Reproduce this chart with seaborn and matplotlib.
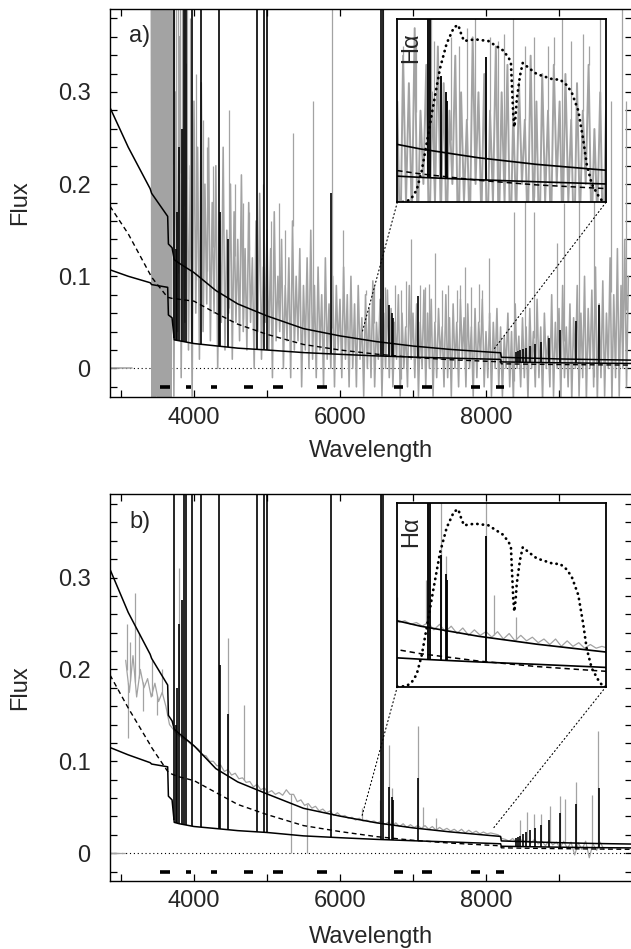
import numpy as np
import pandas as pd
import matplotlib
matplotlib.use("Agg")
import matplotlib.pyplot as plt
from matplotlib.patches import ConnectionPatch
from matplotlib.ticker import MultipleLocator, FixedLocator, FormatStrFormatter
import seaborn as sns

# --- model continua (nebular = lower solid, stellar = dashed, total = upper solid) ---
cont_wl = [2850, 3100, 3400, 3420, 3640, 3650, 3700, 3730, 3800, 4000, 4300, 4600,
           5000, 5500, 6000, 6500, 7000, 7500, 8000, 8200, 8210, 8600, 9000, 9500, 10000]

neb_a = [0.107, 0.100, 0.093, 0.091, 0.088, 0.058, 0.055, 0.031, 0.030, 0.027, 0.0245, 0.022,
         0.020, 0.0172, 0.0153, 0.0136, 0.0123, 0.0112, 0.0102, 0.0098, 0.0071, 0.0066, 0.0061, 0.0057, 0.0054]
star_a = [0.176, 0.146, 0.102, 0.099, 0.077, 0.077, 0.076, 0.076, 0.075, 0.073, 0.060, 0.048,
          0.037, 0.026, 0.020, 0.0155, 0.012, 0.0095, 0.0078, 0.0072, 0.0050, 0.0046, 0.0042, 0.0039, 0.0036]
tot_a = [0.283, 0.240, 0.195, 0.190, 0.165, 0.135, 0.131, 0.118, 0.114, 0.104, 0.0845, 0.070,
         0.057, 0.0432, 0.0353, 0.0291, 0.0243, 0.0207, 0.018, 0.017, 0.0121, 0.0112, 0.0103, 0.0096, 0.009]

neb_b = [0.115, 0.107, 0.0985, 0.097, 0.094, 0.062, 0.058, 0.0335, 0.032, 0.029, 0.0268, 0.0245,
         0.0225, 0.0188, 0.0168, 0.015, 0.0135, 0.0122, 0.0108, 0.0102, 0.0075, 0.007, 0.0065, 0.006, 0.0057]
star_b = [0.194, 0.158, 0.118, 0.115, 0.089, 0.088, 0.086, 0.085, 0.083, 0.079, 0.066, 0.053,
          0.042, 0.030, 0.0235, 0.018, 0.014, 0.011, 0.0088, 0.008, 0.0058, 0.0053, 0.0049, 0.0045, 0.0042]
tot_b = [0.309, 0.262, 0.2165, 0.212, 0.183, 0.150, 0.144, 0.135, 0.130, 0.117, 0.092, 0.0775,
         0.0645, 0.0488, 0.0403, 0.033, 0.0275, 0.0232, 0.0196, 0.0182, 0.0133, 0.0123, 0.0114, 0.0105, 0.0099]

# --- model emission lines (wavelength, peak flux); 0.5 = off the top ---
line_wl = [3727, 3750, 3771, 3798, 3835, 3869, 3889, 3968, 4101, 4340, 4363, 4471,
           4861, 4959, 5007, 5876, 6563, 6584, 6678, 6717, 6731, 7065,
           8413, 8438, 8467, 8502, 8545, 8598, 8665, 8750, 8863, 9015, 9229, 9546]
peak_a = [0.5, 0.13, 0.17, 0.24, 0.26, 0.5, 0.5, 0.5, 0.5, 0.5, 0.17, 0.14,
          0.5, 0.5, 0.5, 0.19, 0.5, 0.5, 0.069, 0.06, 0.055, 0.079,
          0.018, 0.019, 0.020, 0.021, 0.022, 0.024, 0.026, 0.029, 0.033, 0.042, 0.052, 0.069]
peak_b = [0.5, 0.14, 0.18, 0.25, 0.276, 0.5, 0.5, 0.5, 0.5, 0.5, 0.205, 0.152,
          0.5, 0.5, 0.5, 0.5, 0.5, 0.5, 0.072, 0.0616, 0.058, 0.082,
          0.017, 0.018, 0.019, 0.021, 0.023, 0.025, 0.027, 0.031, 0.036, 0.0435, 0.0536, 0.0714]

# --- observed spectrum a (very noisy) ---
lead_a_wl = [2850, 3150]
lead_a = [0.0, 0.0]
block_a_wl = np.arange(3415, 3700, 10)
block_a = [0.45, -0.05, 0.44, -0.04, 0.46, -0.05, 0.45, -0.03, 0.44, -0.05,
           0.46, -0.04, 0.45, -0.05, 0.44, -0.03, 0.46, -0.05, 0.45, -0.04,
           0.44, -0.05, 0.46, -0.03, 0.45, -0.05, 0.44, -0.04, 0.45]
obs_a_wl = np.arange(3700, 9951, 25)
obs_a = [0.39, -0.03, 0.30, 0.04, 0.36, -0.01, 0.26, 0.05, 0.33, 0.02, 0.22, -0.03, 0.29, 0.06, 0.24, 0.01, 0.31, 0.04, 0.20, 0.07,
         0.25, 0.03, 0.18, 0.06, 0.22, 0.00, 0.16, 0.05, 0.24, 0.02, 0.15, 0.06, 0.20, 0.01, 0.17, 0.05, 0.14, 0.03, 0.21, 0.04,
         0.13, 0.02, 0.18, 0.05, 0.12, 0.00, 0.16, 0.04, 0.19, 0.01, 0.11, 0.05, 0.15, 0.02, 0.13, -0.01, 0.17, 0.03, 0.10, 0.04,
         0.14, 0.00, 0.09, 0.03, 0.12, -0.01, 0.16, 0.02, 0.10, 0.03, 0.13, -0.02, 0.09, 0.02, 0.12, 0.00, 0.15, 0.01, 0.09, -0.01,
         0.11, 0.02, 0.08, -0.02, 0.12, 0.01, 0.07, 0.00, 0.10, -0.02, 0.09, 0.02, 0.075, -0.01, 0.11, 0.01, 0.08, -0.02, 0.10, 0.00,
         0.07, -0.02, 0.09, 0.01, 0.055, -0.03, 0.08, 0.00, 0.065, -0.01, 0.095, -0.02, 0.05, 0.01, 0.075, -0.03, 0.06, 0.00, 0.085, -0.01,
         0.065, -0.02, 0.05, 0.01, 0.08, -0.03, 0.06, 0.00, 0.045, -0.02, 0.09, 0.01, 0.06, -0.01, 0.07, -0.03, 0.05, 0.00, 0.085, -0.02,
         0.06, 0.00, 0.075, -0.03, 0.05, -0.01, 0.065, 0.01, 0.045, -0.02, 0.08, -0.01, 0.055, -0.03, 0.07, 0.00, 0.05, -0.02, 0.075, 0.01,
         0.055, -0.02, 0.07, 0.00, 0.045, -0.03, 0.065, -0.01, 0.05, 0.01, 0.075, -0.02, 0.04, -0.01, 0.06, -0.03, 0.05, 0.00, 0.065, -0.02,
         0.045, -0.03, 0.035, 0.00, 0.06, -0.02, 0.04, -0.035, 0.07, 0.00, 0.035, -0.02, 0.055, -0.01, 0.045, -0.035, 0.065, 0.00, 0.04, -0.02,
         0.075, -0.01, 0.045, -0.035, 0.06, 0.00, 0.035, -0.02, 0.08, -0.03, 0.05, 0.00, 0.065, -0.035, 0.09, -0.01, 0.045, -0.02, 0.07, -0.035,
         0.055, 0.00, 0.09, -0.03, 0.06, -0.01, 0.10, -0.035, 0.065, 0.00, 0.085, -0.02, 0.11, -0.035, 0.07, -0.01, 0.095, -0.03, 0.06, 0.00,
         0.12, -0.035, 0.08, -0.01, 0.13, -0.03, 0.09, 0.00, 0.14, -0.02, 0.10]
spk_a_wl = [3710, 3730, 3760, 3780, 3810, 3840, 3860, 3880, 3910, 3940,
            4030, 4120, 4180, 4260, 4476, 4560, 4673, 4760, 4947, 5060,
            5160, 5250, 5351, 5634, 5886, 6045, 6350, 6460, 6594, 6620,
            6760, 6830, 6900, 6970, 7100, 7170, 7220, 7300, 7400, 7480,
            7600, 7650, 7718, 7800, 7900, 7950, 8048, 8380, 8540, 8653,
            8975, 9065, 9271, 9477, 9706, 9867, 9912]
spk_a = [0.5, 0.5, 0.5, 0.5, 0.5, 0.5, 0.45, 0.5, 0.42, 0.38,
         0.32, 0.27, 0.24, 0.22, 0.28, 0.2, 0.18, 0.17, 0.2, 0.16,
         0.18, 0.15, 0.255, 0.29, 0.5, 0.15, 0.085, 0.09, 0.5, 0.088,
         0.09, 0.085, 0.095, 0.14, 0.09, 0.088, 0.092, 0.125, 0.085, 0.09,
         0.085, 0.09, 0.11, 0.088, 0.092, 0.085, 0.12, 0.17, 0.186, 0.17,
         0.136, 0.18, 0.186, 0.245, 0.29, 0.5, 0.29]

# --- observed spectrum b ---
lead_b_wl = [2850, 3060]
lead_b = [0.0, 0.0]
obs_b_wl = np.arange(3065, 9616, 50)
obs_b = [0.21, 0.175, 0.215, 0.17, 0.20, 0.18, 0.19, 0.17, 0.185, 0.165,
         0.175, 0.16, 0.14, 0.135, 0.13, 0.127, 0.124, 0.122, 0.118, 0.116,
         0.113, 0.107, 0.106, 0.100, 0.100, 0.095, 0.096, 0.089, 0.091, 0.085,
         0.087, 0.081, 0.082, 0.077, 0.078, 0.072, 0.075, 0.069, 0.071, 0.066,
         0.068, 0.064, 0.066, 0.063, 0.069, 0.064, 0.064, 0.056, 0.058, 0.052,
         0.054, 0.049, 0.051, 0.046, 0.048, 0.044, 0.046, 0.041, 0.044, 0.040,
         0.041, 0.038, 0.039, 0.036, 0.038, 0.035, 0.036, 0.034, 0.035, 0.033,
         0.035, 0.031, 0.034, 0.030, 0.033, 0.029, 0.032, 0.028, 0.031, 0.028,
         0.030, 0.027, 0.030, 0.026, 0.029, 0.025, 0.028, 0.025, 0.027, 0.024,
         0.026, 0.023, 0.026, 0.022, 0.025, 0.022, 0.024, 0.021, 0.023, 0.021,
         0.022, 0.021, 0.020, 0.016, 0.015, 0.013, 0.016, 0.012, 0.015, 0.013,
         0.014, 0.011, 0.015, 0.010, 0.013, 0.008, 0.014, 0.009, 0.012, 0.006,
         0.013, 0.005, 0.012, -0.002, 0.011, 0.004, 0.013, -0.005, 0.010, 0.003,
         0.012, 0.004]
spk_b_wl = [3080, 3100, 3130, 3197, 3250, 3300, 3420, 3500, 3560, 3798,
            4471, 4686, 5323, 5543, 6300, 6548, 6563, 6678, 6717, 7065,
            7135, 7320, 8471, 8563, 8653, 8755, 8873, 9010, 9079, 9239,
            9455, 9537]
spk_b = [0.25, 0.125, 0.23, 0.283, 0.24, 0.155, 0.21, 0.15, 0.20, 0.31,
         0.234, 0.161, 0.0, 0.0, 0.049, 0.058, 0.5, 0.118, 0.071, 0.138,
         0.05, 0.038, 0.036, 0.045, 0.043, 0.043, 0.051, 0.062, 0.059, 0.077,
         0.063, 0.133]

# continuum fitting windows (drawn at flux -0.02)
win_lo = [3529, 3886, 4229, 4686, 5085, 5689, 6741, 7130, 7794, 8137]
win_hi = [3666, 3964, 4316, 4810, 5213, 5817, 6869, 7259, 7922, 8242]

# filter transmission shown in the Halpha inset
filt_wl = [6300, 6375, 6420, 6467, 6510, 6553, 6611, 6668, 6726, 6789, 6826, 6850, 6875,
           6970, 7085, 7209, 7260, 7280, 7290, 7300, 7309, 7320, 7330, 7358, 7382, 7440,
           7502, 7646, 7703, 7760, 7804, 7861, 7904, 7933, 7977, 8030, 8072, 8100]
filt_tr = [0.0, 0.003, 0.02, 0.067, 0.17, 0.32, 0.53, 0.73, 0.867, 0.955, 0.967, 0.92, 0.88,
           0.889, 0.88, 0.83, 0.79, 0.76, 0.62, 0.48, 0.41, 0.47, 0.56, 0.69, 0.76, 0.73,
           0.70, 0.67, 0.67, 0.64, 0.60, 0.50, 0.34, 0.21, 0.10, 0.04, 0.003, 0.0]

zoom_wl = [6300, 8100]
hook_a = [0.038, 0.020]
hook_b = [0.040, 0.027]

grey = "#a3a3a3"
fs = 17

sns.set_theme(style="ticks")
plt.rcParams["font.family"] = ["Liberation Sans", "DejaVu Sans"]
plt.rcParams["axes.linewidth"] = 1.0


def obs_frame(parts):
    rows = []
    for i, (wl, fl) in enumerate(parts):
        rows.append(pd.DataFrame({"wl": np.asarray(wl, float), "flux": fl, "seg": i}))
    return pd.concat(rows, ignore_index=True)


def draw(ax, obs, spk_wl, spk, tot, neb, star, peaks, glw=0.9, lw_scale=1.0):
    ax.axhline(0, color="black", lw=0.8, ls=(0, (1, 2.5)), zorder=1)
    sns.lineplot(data=obs, x="wl", y="flux", units="seg", estimator=None, sort=False,
                 color=grey, lw=glw, ax=ax, zorder=2)
    base = np.interp(spk_wl, obs["wl"], obs["flux"])
    ax.vlines(spk_wl, np.minimum(base, spk), np.maximum(base, spk),
              color=grey, lw=0.9, zorder=2)
    model = pd.DataFrame({"wl": cont_wl, "tot": tot, "neb": neb, "star": star})
    sns.lineplot(data=model, x="wl", y="tot", color="black", lw=1.1 * lw_scale,
                 estimator=None, sort=False, ax=ax, zorder=3)
    sns.lineplot(data=model, x="wl", y="neb", color="black", lw=1.1 * lw_scale,
                 estimator=None, sort=False, ax=ax, zorder=3)
    sns.lineplot(data=model, x="wl", y="star", color="black", lw=1.0 * lw_scale,
                 linestyle=(0, (3.5, 2.5)), estimator=None, sort=False, ax=ax, zorder=3)
    lbase = np.interp(line_wl, cont_wl, neb)
    ax.vlines(line_wl, lbase, peaks, color="black", lw=1.2 * lw_scale, zorder=3)


def style_main(ax, ylim, tag):
    ax.set_xlim(2850, 10000)
    ax.set_ylim(*ylim)
    ax.xaxis.set_major_locator(FixedLocator([4000, 6000, 8000]))
    ax.xaxis.set_minor_locator(MultipleLocator(1000))
    ax.yaxis.set_major_locator(MultipleLocator(0.1))
    ax.yaxis.set_minor_locator(MultipleLocator(0.02))
    ax.yaxis.set_major_formatter(FormatStrFormatter("%g"))
    ax.tick_params(which="both", direction="in", top=True, right=True,
                   length=4.8, width=0.9, labelsize=fs, color="black")
    ax.tick_params(axis="x", pad=7)
    ax.tick_params(axis="y", pad=14)
    ax.set_xlabel("Wavelength", fontsize=fs)
    ax.set_ylabel("Flux", fontsize=fs)
    ax.yaxis.set_label_coords(-0.151, 0.5)
    for s in ax.spines.values():
        s.set_color("black")
    ax.text(0.037, tag[1], tag[0], transform=ax.transAxes, fontsize=fs,
            ha="left", va="baseline")


def add_inset(fig, ax, rect, obs, spk_wl, spk, tot, neb, star, peaks, hook, glw):
    ins = fig.add_axes(rect)
    ins.set_facecolor("white")
    draw(ins, obs, spk_wl, spk, tot, neb, star, peaks, glw=glw, lw_scale=1.1)
    ins.plot(filt_wl, filt_tr, transform=ins.get_xaxis_transform(), color="black",
             lw=2.0, ls=(0, (0.1, 1.9)), dash_capstyle="round", zorder=4)
    ins.set_xlim(*zoom_wl)
    ins.set_ylim(0, 0.1)
    ins.set_xticks([])
    ins.set_yticks([])
    ins.set_xlabel("")
    ins.set_ylabel("")
    for s in ins.spines.values():
        s.set_color("black")
        s.set_linewidth(1.3)
    ins.text(0.068, 0.845, "H\u03b1", transform=ins.transAxes, fontsize=fs,
             rotation=90, ha="center", va="center")
    for xa, wl, fl in zip([0, 1], zoom_wl, hook):
        con = ConnectionPatch(xyA=(xa, 0), coordsA=ins.transAxes, xyB=(wl, fl),
                              coordsB=ax.transData, color="black", lw=0.8,
                              ls=(0, (1, 2.5)))
        fig.add_artist(con)
    return ins


fig = plt.figure(figsize=(6.31, 9.49), dpi=100)
W, H = 631, 949
ax_a = fig.add_axes([110 / W, 1 - 397 / H, 522 / W, 388 / H])
ax_b = fig.add_axes([110 / W, 1 - 880.7 / H, 522 / W, 386.7 / H])

obs_df_a = obs_frame([(lead_a_wl, lead_a), (block_a_wl, block_a), (obs_a_wl, obs_a)])
obs_df_b = obs_frame([(lead_b_wl, lead_b), (obs_b_wl, obs_b)])

draw(ax_a, obs_df_a, spk_a_wl, spk_a, tot_a, neb_a, star_a, peak_a, glw=1.15)
draw(ax_b, obs_df_b, spk_b_wl, spk_b, tot_b, neb_b, star_b, peak_b, glw=0.9)

for ax in (ax_a, ax_b):
    ax.hlines([-0.02] * len(win_lo), win_lo, win_hi, color="black", lw=2.6, zorder=4)

style_main(ax_a, (-0.031, 0.39), ("a)", 0.916))
style_main(ax_b, (-0.030, 0.391), ("b)", 0.911))
ax_a.xaxis.set_label_coords(0.5, -0.112)
ax_b.xaxis.set_label_coords(0.5, -0.118)

add_inset(fig, ax_a, [397.3 / W, 1 - 202.3 / H, 208.7 / W, 183.3 / H],
          obs_df_a, spk_a_wl, spk_a, tot_a, neb_a, star_a, peak_a, hook_a, glw=1.4)
add_inset(fig, ax_b, [397.3 / W, 1 - 686.7 / H, 208.7 / W, 183.4 / H],
          obs_df_b, spk_b_wl, spk_b, tot_b, neb_b, star_b, peak_b, hook_b, glw=0.9)

fig.savefig("out.png", dpi=100)
